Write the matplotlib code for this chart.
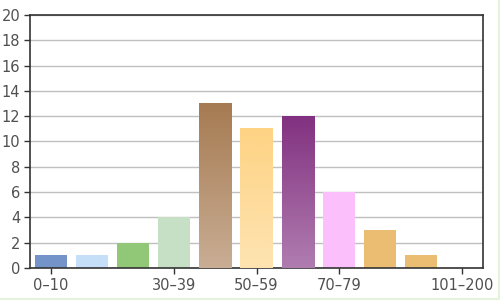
import numpy as np
import matplotlib
matplotlib.use('Agg')
import matplotlib.pyplot as plt
from matplotlib.colors import LinearSegmentedColormap
from matplotlib.lines import Line2D

# data
categories = ['0–10', '11–19', '20–29', '30–39', '40–49', '50–59',
              '60–69', '70–79', '80–89', '90–100', '101–200']
counts = [1, 1, 2, 4, 13, 11, 12, 6, 3, 1, 0]
shown_labels = ['0–10', '30–39', '50–59', '70–79', '101–200']

# top / bottom colours of each bar (same = flat)
top_colors = ['#7393c9', '#c5dff8', '#90c878', '#c5e0c5', '#a67b52', '#fed384',
              '#823180', '#fbc0fb', '#ebbd73', '#ebbd73', '#ebbd73']
bottom_colors = ['#7393c9', '#c5dff8', '#90c878', '#c5e0c5', '#c9ad94', '#fee4b2',
                 '#b07db0', '#fbc0fb', '#ebbd73', '#ebbd73', '#ebbd73']

plt.rcParams['font.family'] = ['DejaVu Sans']

fig = plt.figure(figsize=(5, 3), dpi=100)
ax = fig.add_axes([0.06, 0.1067, 0.906, 0.8433])

# faint border on right and bottom edges of the figure
fig.add_artist(Line2D([0, 0.997, 0.997], [0.003, 0.003, 1], transform=fig.transFigure,
                      color='#e4f4da', linewidth=1.5))

x = np.arange(len(categories))
bars = ax.bar(x, counts, width=0.78, color=top_colors, zorder=2)

# gradient fills
for b, c1, c2 in zip(bars, top_colors, bottom_colors):
    if c1 == c2 or b.get_height() == 0:
        continue
    cmap = LinearSegmentedColormap.from_list('g', [c2, c1])
    x0, y0 = b.get_x(), b.get_y()
    w, h = b.get_width(), b.get_height()
    grad = np.linspace(0, 1, 256).reshape(-1, 1)
    ax.imshow(grad, cmap=cmap, origin='lower', aspect='auto',
              extent=[x0, x0 + w, y0, y0 + h], zorder=3)

ax.set_xlim(-0.5, len(categories) - 0.5)
ax.set_ylim(0, 20)
ax.set_yticks(range(0, 21, 2))
ax.set_xticks([categories.index(c) for c in shown_labels])
ax.set_xticklabels(shown_labels)

ax.grid(axis='y', color='#c0c0c0', linewidth=1, zorder=0)
ax.set_axisbelow(True)
for s in ax.spines.values():
    s.set_color('#333333')
    s.set_linewidth(1.2)
ax.tick_params(axis='both', colors='#333333', labelcolor='#505050',
               labelsize=10.5, length=4, width=1, pad=3)

fig.savefig('out.png', dpi=100)
